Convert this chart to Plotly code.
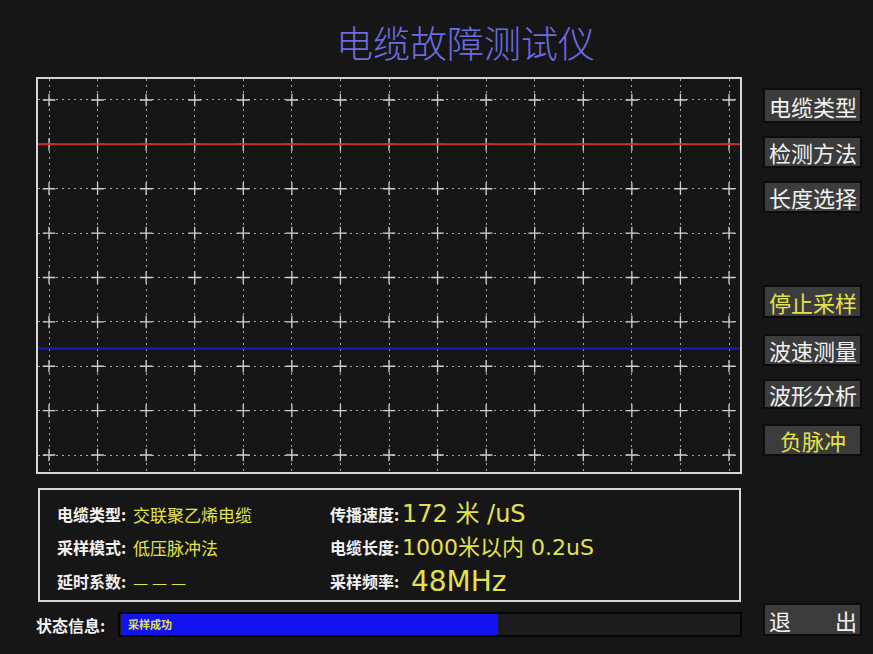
import numpy as np
import plotly.graph_objects as go

W, H = 873, 654
CJK = "Noto Sans CJK SC"
LATIN = "DejaVu Sans, Noto Sans CJK SC"
BG = "#161616"
YELLOW = "#e2e24e"
WHITE = "#f2f2f2"

# ---- data -------------------------------------------------------------
title = "电缆故障测试仪"
grid_cols = 14          # horizontal divisions
grid_rows = 8           # vertical divisions
red_wave = [7.0, 7.0]   # reference trace level (div)
blue_wave = [2.4, 2.4]  # measured trace level (div)

menu_items = ["电缆类型", "检测方法", "长度选择", "停止采样", "波速测量", "波形分析", "负脉冲", "退　　出"]
menu_active = [False, False, False, True, False, False, True, False]

info_left = [("电缆类型:", "交联聚乙烯电缆"), ("采样模式:", "低压脉冲法"), ("延时系数:", "— — —")]
info_right = [("传播速度:", "172 米 /uS"), ("电缆长度:", "1000米以内 0.2uS"), ("采样频率:", " 48MHz")]

status_label = "状态信息:"
status_text = "采样成功"
progress = 0.61


def px(x):
    return x / W


def py(y):
    return 1 - y / H


x_lo, x_hi = -0.2265, grid_cols + 0.2265
y_lo, y_hi = -0.383, grid_rows + 0.473
x_span = [x_lo, x_hi]

fig = go.Figure()

# grid crosses at every intersection
gx, gy = np.meshgrid(np.arange(grid_cols + 1), np.arange(grid_rows + 1))
fig.add_trace(go.Scatter(
    x=gx.ravel(), y=gy.ravel(), mode="markers",
    marker=dict(symbol="cross-thin", size=9, line=dict(color="#cfcfcf", width=1.3)),
    hoverinfo="skip", showlegend=False))

fig.add_trace(go.Scatter(x=x_span, y=red_wave, mode="lines",
                         line=dict(color="#c83030", width=2), showlegend=False))
fig.add_trace(go.Scatter(x=x_span, y=blue_wave, mode="lines",
                         line=dict(color="#1c1cb8", width=2), showlegend=False))

# progress bar
fig.add_trace(go.Bar(x=[progress], y=[0], orientation="h", width=1,
                     marker=dict(color="#1414f0", line=dict(width=0)),
                     xaxis="x2", yaxis="y2", showlegend=False, hoverinfo="skip"))

axis_common = dict(showticklabels=False, ticks="", zeroline=False,
                   gridcolor="#a8a8a8", griddash="2px,4px", gridwidth=1,
                   showline=True, mirror=True, linecolor="#d6d6d6", linewidth=2)

fig.update_layout(
    width=W, height=H, autosize=False,
    margin=dict(l=0, r=0, t=0, b=0),
    paper_bgcolor=BG, plot_bgcolor=BG,
    xaxis=dict(domain=[px(38), px(740)], range=[x_lo, x_hi], dtick=1, tick0=0, **axis_common),
    yaxis=dict(domain=[py(472), py(79)], range=[y_lo, y_hi], dtick=1, tick0=0, **axis_common),
    xaxis2=dict(domain=[px(121), px(739)], range=[0, 1], visible=False, anchor="y2"),
    yaxis2=dict(domain=[py(635), py(614)], range=[-0.5, 0.5], visible=False, anchor="x2"),
    bargap=0,
)

shapes = []
ann = []


def text(x, y, s, size, color, anchor="left", family=CJK, weight="normal"):
    ann.append(dict(xref="paper", yref="paper", x=px(x), y=py(y), text=s, showarrow=False,
                    xanchor=anchor, yanchor="middle",
                    font=dict(family=family, size=size, color=color, weight=weight)))


# title
text(465, 42, title, 37, "#6c6ce0", "center", weight=300)

# menu buttons
btn_y = [(89, 122), (137, 167), (182, 212), (286, 317), (335, 365), (380, 408), (425, 455), (604, 635)]
for label, active, (y0, y1) in zip(menu_items, menu_active, btn_y):
    shapes.append(dict(type="rect", xref="paper", yref="paper",
                       x0=px(764), x1=px(861), y0=py(y1), y1=py(y0),
                       fillcolor="#3c3c3c", line=dict(color="#0c0c0c", width=2), layer="below"))
    text(812.5, (y0 + y1) / 2, label, 22, YELLOW if active else WHITE, "center")

# info panel frame
shapes.append(dict(type="rect", xref="paper", yref="paper",
                   x0=px(39), x1=px(740), y0=py(601), y1=py(489),
                   line=dict(color="#d6d6d6", width=2), fillcolor="rgba(0,0,0,0)"))

row_y = [514, 547, 581]
for (lab, val), y in zip(info_left, row_y):
    text(55, y, lab, 16, WHITE, weight="bold")
    text(131, y, val, 17, YELLOW)

val_sizes = [24, 22, 28]
for (lab, val), y, s in zip(info_right, row_y, val_sizes):
    text(328, y, lab, 16, WHITE, weight="bold")
    text(400, y, val, s, YELLOW, family=LATIN)

# status line
shapes.append(dict(type="rect", xref="paper", yref="paper",
                   x0=px(119), x1=px(741), y0=py(636), y1=py(613),
                   fillcolor="#1c1c1c", line=dict(color="#050505", width=2), layer="below"))
text(34, 625, status_label, 16, WHITE, weight="bold")
text(126, 624, status_text, 11, YELLOW, weight="bold")

fig.update_layout(shapes=shapes, annotations=ann)
fig.write_html("out.html")
